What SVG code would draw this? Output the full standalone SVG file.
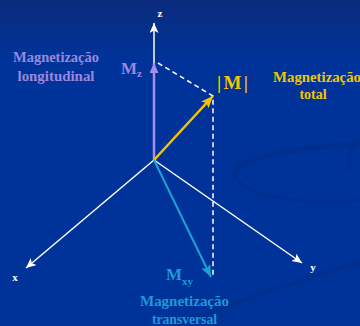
<svg xmlns="http://www.w3.org/2000/svg" width="360" height="326" viewBox="0 0 360 326">
<defs>
<linearGradient id="bg" x1="0" y1="0" x2="0" y2="1">
<stop offset="0" stop-color="#0a2b7c"/>
<stop offset="0.18" stop-color="#00339a"/>
<stop offset="1" stop-color="#00339a"/>
</linearGradient>
<marker id="aw" markerUnits="userSpaceOnUse" markerWidth="12" markerHeight="10" refX="10" refY="4.5" orient="auto"><path d="M0,0 L10,4.5 L0,9 L2.5,4.5 Z" fill="#ffffff"/></marker>
<marker id="ap" markerUnits="userSpaceOnUse" markerWidth="12" markerHeight="10" refX="10" refY="4.5" orient="auto"><path d="M0,0 L10,4.5 L0,9 Z" fill="#a48ee6"/></marker>
<marker id="ay" markerUnits="userSpaceOnUse" markerWidth="14" markerHeight="12" refX="12" refY="5" orient="auto"><path d="M0,0 L12,5 L0,10 L2.5,5 Z" fill="#f5c400"/></marker>
<marker id="ac" markerUnits="userSpaceOnUse" markerWidth="14" markerHeight="12" refX="12" refY="5" orient="auto"><path d="M0,0 L12,5 L0,10 L2.5,5 Z" fill="#1ea2d4"/></marker>
</defs>
<style>
text{font-family:"Liberation Serif","Times New Roman",serif;font-weight:bold}
.ax{stroke:#ffffff;stroke-width:1.5;fill:none}
.dash{stroke:#ffffff;stroke-width:1.5;stroke-dasharray:5 3.5;fill:none}
.lbl{font-size:11px;fill:#ffffff}
.pt{fill:#9a88dc;font-size:14px}
.yt{fill:#f2c500;font-size:14px}
.ct{fill:#1e98d8;font-size:14px}
.sw{fill:none;stroke:#002f8e}
</style>
<rect width="360" height="326" fill="url(#bg)"/>
<g id="background-swoosh" opacity="0.8">
<path class="sw" stroke-width="6" d="M236,178 C226,160 280,150 345,145 C360,144 362,146 362,146"/>
<path class="sw" stroke-width="3" d="M236,178 C250,200 320,205 362,200"/>
<path class="sw" stroke-width="5" d="M170,326 C240,300 300,280 362,262"/>
<path class="sw" stroke-width="4" d="M350,170 C345,155 355,145 362,140"/>
</g>
<g id="connectors">
<line class="ax" x1="154" y1="160" x2="154" y2="23" marker-end="url(#aw)"/>
<line class="ax" x1="154" y1="160" x2="26" y2="268" marker-end="url(#aw)"/>
<line class="ax" x1="154" y1="160" x2="302" y2="263" marker-end="url(#aw)"/>
<polyline class="dash" points="158,63 213,96 213,277"/>
<line x1="154" y1="160" x2="154" y2="63" stroke="#a48ee6" stroke-width="2.5" marker-end="url(#ap)"/>
<line x1="154" y1="160" x2="213" y2="96" stroke="#f5c400" stroke-width="2.5" marker-end="url(#ay)"/>
<line x1="154" y1="160" x2="211" y2="277" stroke="#1ea2d4" stroke-width="2" marker-end="url(#ac)"/>
</g>
<g id="axis-z"><text class="lbl" x="160" y="17" text-anchor="middle">z</text></g>
<g id="axis-x"><text class="lbl" x="15" y="281" text-anchor="middle">x</text></g>
<g id="axis-y"><text class="lbl" x="313" y="271" text-anchor="middle">y</text></g>
<g id="node-mz">
<text x="121" y="74" fill="#9a88dc" font-size="17">M<tspan font-size="11" dy="3">z</tspan></text>
<text class="pt" x="56" y="62" text-anchor="middle" textLength="86" lengthAdjust="spacingAndGlyphs">Magnetização</text>
<text class="pt" x="56" y="81" text-anchor="middle" textLength="77" lengthAdjust="spacingAndGlyphs">longitudinal</text>
</g>
<g id="node-m">
<text x="232.5" y="89" fill="#f2c500" font-size="19" text-anchor="middle" textLength="31" lengthAdjust="spacing">|M|</text>
<text class="yt" x="273" y="82" textLength="88" lengthAdjust="spacingAndGlyphs">Magnetização</text>
<text class="yt" x="313" y="99" text-anchor="middle">total</text>
</g>
<g id="node-mxy">
<text x="166" y="280" fill="#1e98d8" font-size="17">M<tspan font-size="11" dy="5">xy</tspan></text>
<text class="ct" x="184.5" y="306" text-anchor="middle" textLength="89" lengthAdjust="spacingAndGlyphs">Magnetização</text>
<text class="ct" x="184.5" y="324" text-anchor="middle" textLength="65" lengthAdjust="spacingAndGlyphs">transversal</text>
</g>
</svg>
